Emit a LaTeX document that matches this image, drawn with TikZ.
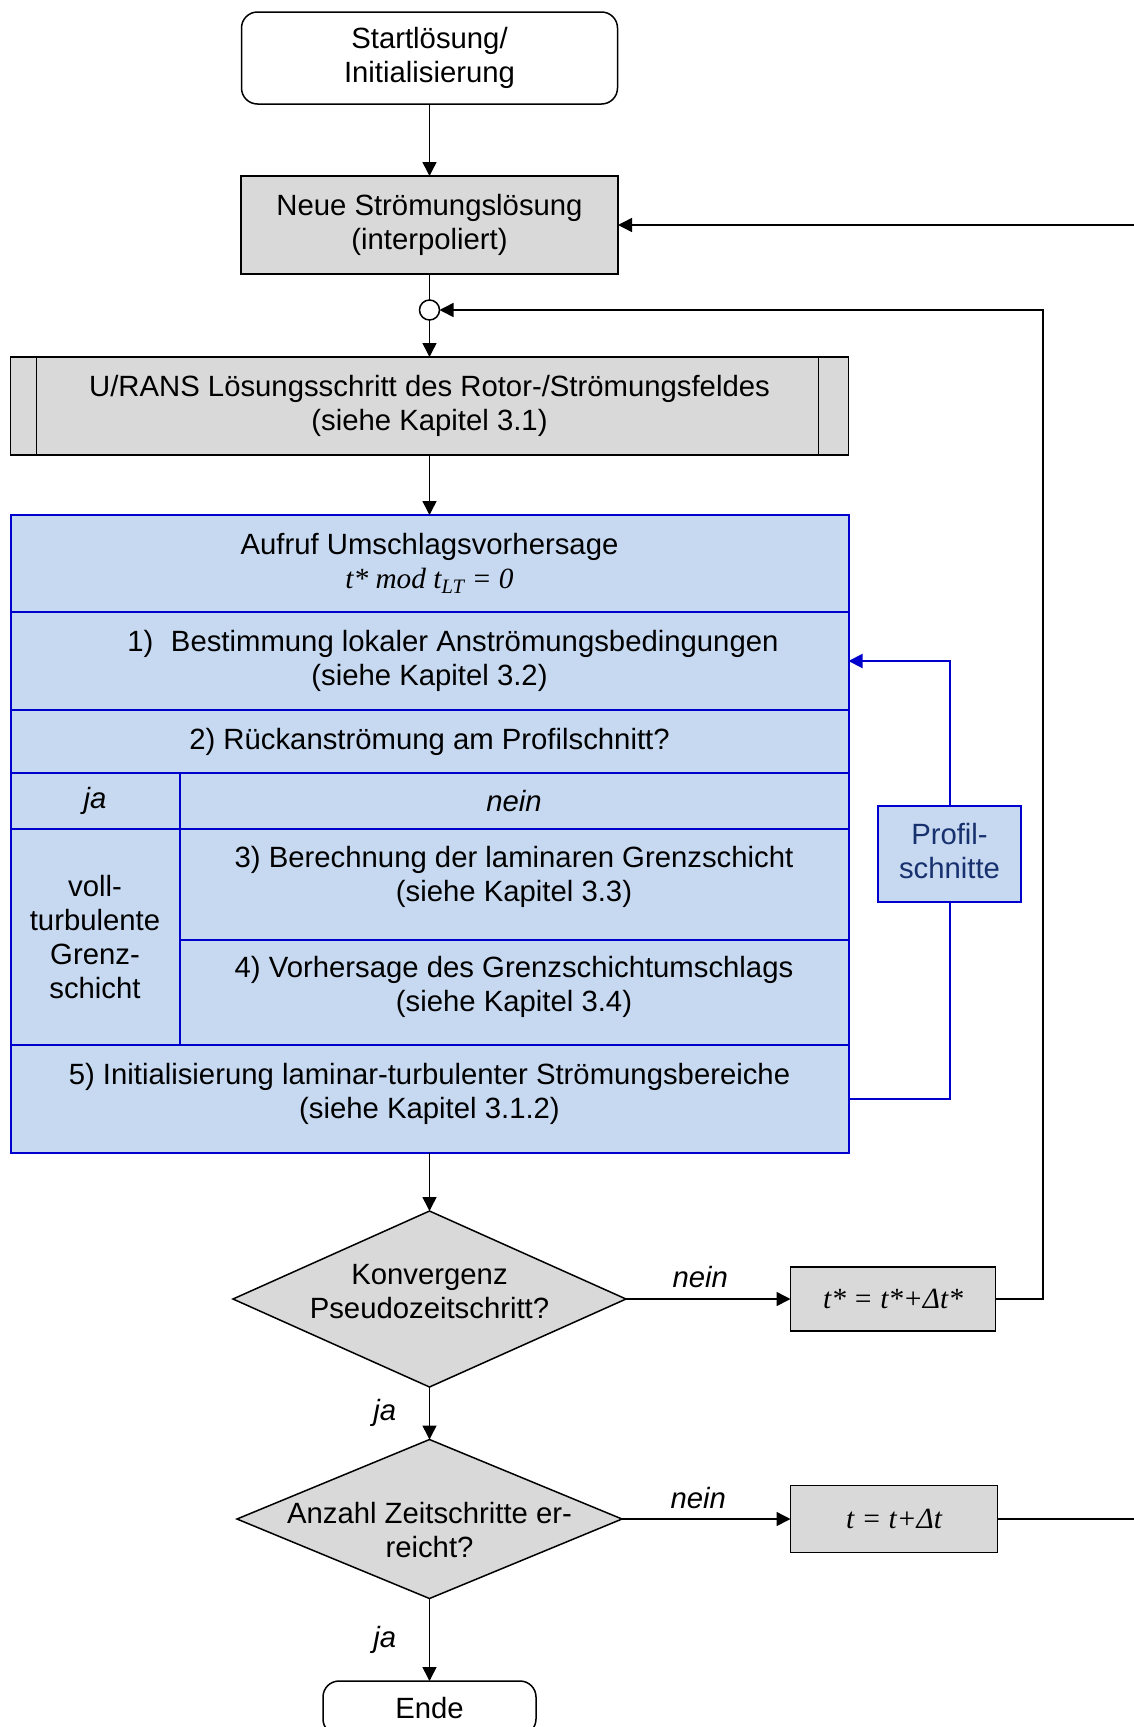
\documentclass[tikz,border=0pt]{standalone}
\usepackage{fontspec}
\setmainfont{Liberation Sans}
\newfontfamily\formelfont{Liberation Serif}
\usetikzlibrary{positioning,shapes.geometric,arrows.meta}

\definecolor{kastengrau}{HTML}{D9D9D9}
\definecolor{zellblau}{HTML}{C6D9F1}
\definecolor{linienblau}{HTML}{0000CC}
\definecolor{navytext}{HTML}{17306E}

\begin{document}
\begin{tikzpicture}[x=1pt,y=1pt,
  every node/.style={font=\fontsize{29.3pt}{34pt}\selectfont, align=center, outer sep=0pt},
  startstop/.style={draw, rounded corners=16pt, line width=1.5pt, fill=white},
  stepbox/.style={draw, fill=kastengrau, line width=1.5pt},
  cell/.style={draw=linienblau, fill=zellblau, line width=2pt, minimum width=838pt},
  decision/.style={diamond, draw, fill=kastengrau, line width=1.5pt, inner sep=0pt},
  lbl/.style={font=\fontsize{29.3pt}{34pt}\selectfont\itshape},
  pfeil/.style={-{Triangle[length=14pt,width=14pt]}, line width=1.5pt}]

  \useasboundingbox (0,0) rectangle (1134,-1727);

  \node (Start) [startstop, minimum width=376pt, minimum height=92pt] at (429.5,-58) {Startlösung/\\Initialisierung};
  \node (Neue) [stepbox, minimum width=377pt, minimum height=98pt, node distance=167pt, below of=Start] {Neue Strömungslösung\\(interpoliert)};
  \node (Knoten) [circle, draw, fill=white, line width=1.5pt, minimum size=20pt, inner sep=0pt, node distance=85pt, below of=Neue] {};
  \node (Urans) [stepbox, minimum width=838pt, minimum height=98pt, node distance=96pt, below of=Knoten] {U/RANS Lösungsschritt des Rotor-/Strömungsfeldes\\(siehe Kapitel 3.1)};
  \draw[line width=1.5pt] ([xshift=26pt]Urans.north west) -- ([xshift=26pt]Urans.south west);
  \draw[line width=1.5pt] ([xshift=-30pt]Urans.north east) -- ([xshift=-30pt]Urans.south east);

  % Umschlagsvorhersage
  \node (Aufruf) [cell, minimum height=97pt, below=60pt of Urans] {Aufruf Umschlagsvorhersage\\{\formelfont\itshape t* mod t\textsubscript{LT} = 0}};
  \node (Best) [cell, minimum height=98pt, below=0pt of Aufruf] {\hspace*{1.6em}1)\hspace{0.6em}Bestimmung lokaler Anströmungsbedingungen\\(siehe Kapitel 3.2)};
  \node (Rueck) [cell, minimum height=63pt, below=0pt of Best] {2) Rückanströmung am Profilschnitt?};
  \node (Ja) [cell, minimum width=169pt, minimum height=56pt, anchor=north west] at (Rueck.south west) {\itshape ja};
  \node (Nein) [cell, minimum width=669pt, minimum height=56pt, anchor=north west] at (Ja.north east) {\itshape nein};
  \node (Voll) [cell, minimum width=169pt, minimum height=216pt, anchor=north west] at (Ja.south west) {voll-\\turbulente\\Grenz-\\schicht};
  \node (Ber) [cell, minimum width=669pt, minimum height=111pt, text depth=21pt, anchor=north west] at (Nein.south west) {3) Berechnung der laminaren Grenzschicht\\(siehe Kapitel 3.3)};
  \node (Vor) [cell, minimum width=669pt, minimum height=105pt, text depth=17pt, anchor=north west] at (Ber.south west) {4) Vorhersage des Grenzschichtumschlags\\(siehe Kapitel 3.4)};
  \node (Init) [cell, minimum height=108pt, text depth=17pt, anchor=north west] at (Voll.south west) {5) Initialisierung laminar-turbulenter Strömungsbereiche\\(siehe Kapitel 3.1.2)};

  \node (Profil) [cell, minimum width=143pt, minimum height=96pt, text depth=6.5pt, text=navytext] at (949.5,-854) {Profil-\\schnitte};

  % Abfragen
  \node (K1) [decision, minimum width=393pt, minimum height=176pt, node distance=200pt, below of=Init,
    label={[align=center, yshift=7pt]center:Konvergenz\\Pseudozeitschritt?}] {};
  \node (K2) [decision, minimum width=385pt, minimum height=159pt, node distance=220pt, below of=K1,
    label={[align=center, yshift=-11pt]center:Anzahl Zeitschritte er-\\reicht?}] {};
  \node (TStar) [stepbox, minimum width=205pt, minimum height=64pt, node distance=463.5pt, right of=K1] {\formelfont\itshape t* = t*+Δt*};
  \node (TBox) [stepbox, minimum width=207pt, minimum height=67pt, node distance=464.5pt, right of=K2] {\formelfont\itshape t = t+Δt};
  \node (Ende) [startstop, minimum width=213pt, minimum height=54pt, node distance=189pt, below of=K2] {Ende};

  \coordinate (LoopEcke) at (1043,-310);
  \coordinate (RandOben) at (1134,-225);
  \coordinate (RandUnten) at (1134,-1519);

  \draw[pfeil] (Start) -- (Neue);
  \draw[line width=1.5pt] (Neue) -- (Knoten);
  \draw[pfeil] (Knoten) -- (Urans);
  \draw[pfeil] (Urans) -- (Aufruf);
  \draw[pfeil] (RandOben) -- (Neue);

  \draw[pfeil, draw=linienblau, line width=2pt] (Profil.north) |- (Best.east);
  \draw[draw=linienblau, line width=2pt] (Profil.south) |- (Init.east);

  \draw[pfeil] (Init) -- (K1);
  \draw[pfeil] (K1) -- node (Nein1) [lbl, above=8pt, xshift=-8pt] {nein} (TStar);
  \draw[pfeil] (K1) -- node (Ja1) [lbl, left=30pt] {ja} (K2);
  \draw[pfeil] (TStar.east) -| (LoopEcke) -- (Knoten);
  \draw[pfeil] (K2) -- node (Nein2) [lbl, above=7pt, xshift=-8pt] {nein} (TBox);
  \draw[pfeil] (K2) -- node (Ja2) [lbl, left=30pt] {ja} (Ende);
  \draw[line width=1.5pt] (TBox) -- (RandUnten);

\end{tikzpicture}
\end{document}
